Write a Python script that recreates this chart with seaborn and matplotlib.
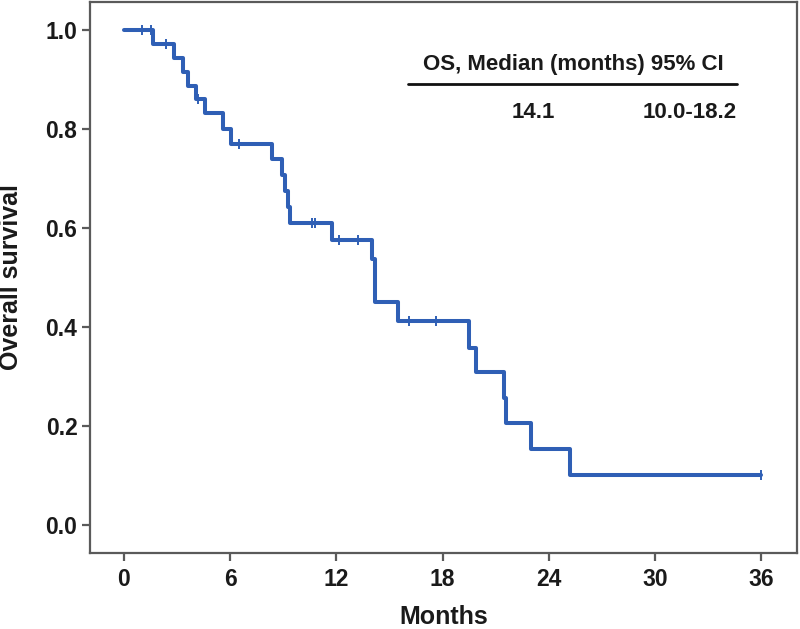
import matplotlib
matplotlib.use("Agg")
import matplotlib.pyplot as plt
import seaborn as sns
import pandas as pd

# step curve (months, survival)
stepMonths = [0, 1.65, 2.84, 3.35, 3.63, 4.06, 4.57, 5.6, 6.07, 8.36, 8.93, 9.1, 9.25, 9.38,
              11.72, 14.0, 14.16, 15.45, 19.49, 19.9, 21.44, 21.6, 23.0, 25.2, 36.0]
stepSurvival = [1.0, 0.972, 0.944, 0.916, 0.888, 0.860, 0.832, 0.801, 0.770, 0.739, 0.707, 0.675, 0.643, 0.611,
                0.576, 0.538, 0.451, 0.412, 0.358, 0.308, 0.256, 0.205, 0.153, 0.101, 0.101]

# censored marks
censorMonths = [1.0, 1.5, 2.4, 4.2, 6.5, 10.6, 10.8, 12.15, 13.2, 16.1, 17.6, 36.0]
censorSurvival = [1.0, 1.0, 0.972, 0.860, 0.770, 0.611, 0.611, 0.576, 0.576, 0.412, 0.412, 0.101]

xTicks = [0, 6, 12, 18, 24, 30, 36]
yTicks = [0.0, 0.2, 0.4, 0.6, 0.8, 1.0]

tableHeader = "OS, Median (months) 95% CI"
tableMedian = "14.1"
tableCI = "10.0-18.2"

lineColor = "#2f5fb5"
frameColor = "#5a5a5a"
textColor = "#1a1a1a"

sns.set_style("ticks")
plt.rcParams['font.family'] = ['Liberation Sans', 'DejaVu Sans']
plt.rcParams['font.weight'] = 'bold'

dfCurve = pd.DataFrame({'Months': stepMonths, 'Survival': stepSurvival})
dfCensor = pd.DataFrame({'Months': censorMonths, 'Survival': censorSurvival})

fig = plt.figure(figsize=(8, 6.29), dpi=100)
ax = fig.add_axes([0.1125, 0.1208, 0.8835, 0.876])

sns.lineplot(x='Months', y='Survival', data=dfCurve, drawstyle='steps-post',
             color=lineColor, linewidth=2.9, ax=ax, estimator=None, sort=False)
sns.scatterplot(x='Months', y='Survival', data=dfCensor, marker='|', s=45,
                color=lineColor, linewidth=1.4, ax=ax, zorder=3)

ax.set_xlim(-1.92, 38.0)
ax.set_ylim(-0.057, 1.057)
ax.set_xticks(xTicks)
ax.set_yticks(yTicks)
ax.set_xticklabels([str(t) for t in xTicks], fontsize=16.5, fontweight='bold')
ax.set_yticklabels(["%.1f" % t for t in yTicks], fontsize=16.5, fontweight='bold')
ax.set_xlabel("Months", fontsize=18, fontweight='bold', color=textColor)
ax.set_ylabel("Overall survival", fontsize=18, fontweight='bold', color=textColor)
ax.xaxis.set_label_coords(0.5, -0.095)
# anchor is the right edge of the rotated label
ax.yaxis.set_label_coords(-0.095, 0.5)

for side in ['left', 'right', 'top', 'bottom']:
    ax.spines[side].set_color(frameColor)
    ax.spines[side].set_linewidth(1.6)
ax.tick_params(axis='both', colors=frameColor, length=6, width=1.6, labelcolor=textColor)
ax.tick_params(axis='x', pad=5)
ax.tick_params(axis='y', pad=3)

# median table in the upper right
ax.text(0.684, 0.886, tableHeader, transform=ax.transAxes, ha='center', va='center',
        fontsize=16, fontweight='bold', color=textColor)
ax.plot([0.45, 0.915], [0.851, 0.851], transform=ax.transAxes, color='#111111', linewidth=2)
ax.text(0.627, 0.800, tableMedian, transform=ax.transAxes, ha='center', va='center',
        fontsize=16, fontweight='bold', color=textColor)
ax.text(0.915, 0.800, tableCI, transform=ax.transAxes, ha='right', va='center',
        fontsize=16, fontweight='bold', color=textColor)

fig.savefig("out.png", dpi=100)
